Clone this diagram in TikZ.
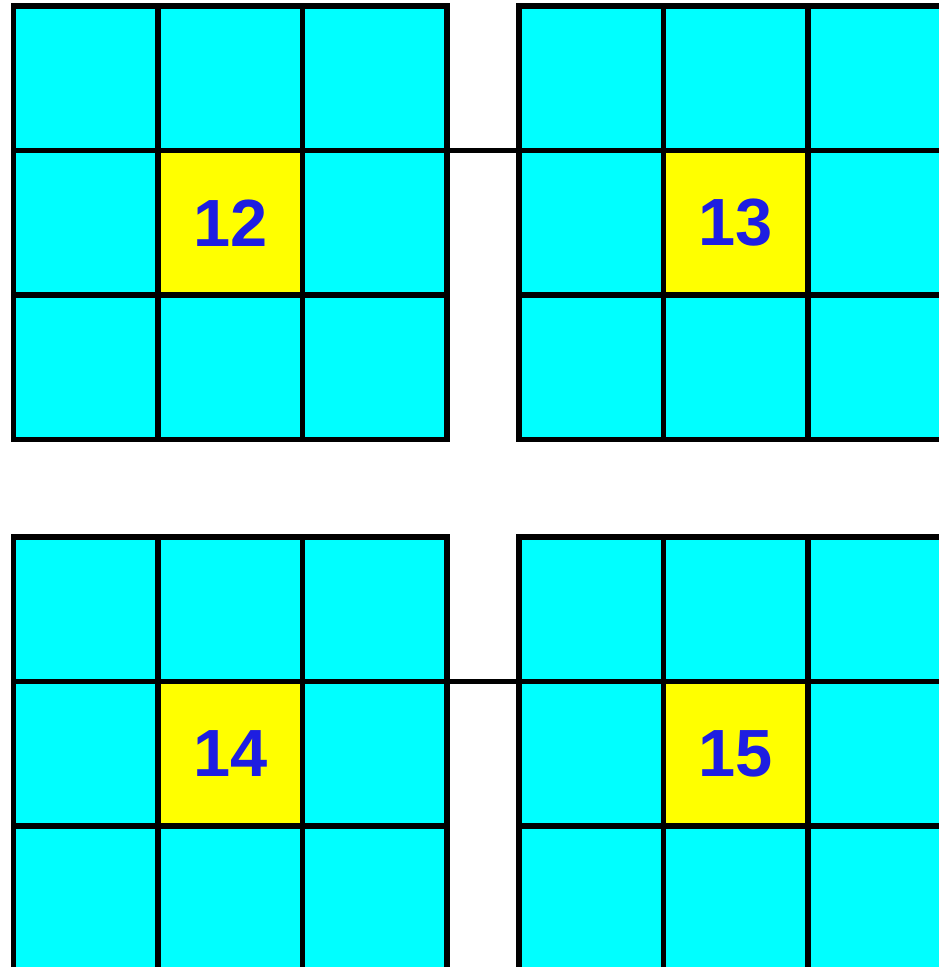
\documentclass[tikz,border=0pt]{standalone}
\usepackage{fontspec}
\setmainfont{Liberation Sans}
\definecolor{numblue}{RGB}{30,30,225}
\definecolor{cellcyan}{RGB}{0,255,255}
\definecolor{cellyellow}{RGB}{255,255,0}

\begin{document}
\begin{tikzpicture}[
        % un pixel del riferimento = 0.02cm, asse y verso il basso
        x=0.02cm, y=-0.02cm,
        % Stili delle celle e delle linee di collegamento
        cell/.style={draw=black, fill=cellcyan, line width=0.11cm, minimum size=2.89cm, inner sep=0pt, outer sep=0pt},
        center_cell/.style={cell, fill=cellyellow, text=numblue, font=\fontsize{38}{40}\selectfont\bfseries},
        link/.style={line width=0.11cm}
    ]
    \useasboundingbox (0,0) rectangle (938,967);

    % ==============================
    % 1. GRIGLIA 12 (in alto a sinistra)
    % ==============================
    \begin{scope}[shift={(13.5,6)}]
        \foreach \row in {1,2,3} \foreach \col in {1,2,3}
            \node[cell] (A-\row\col) at ({(\col-0.5)*144.5},{(\row-0.5)*144.5}) {};
        % Cella centrale
        \node[center_cell] (A-num) at (A-22) {12};
    \end{scope}

    % ==============================
    % 2. GRIGLIA 13 (in alto a destra)
    % ==============================
    \begin{scope}[shift={(519,6)}]
        \foreach \row in {1,2,3} \foreach \col in {1,2,3}
            \node[cell] (B-\row\col) at ({(\col-0.5)*144.5},{(\row-0.5)*144.5}) {};
        % Cella centrale
        \node[center_cell] (B-num) at (B-22) {13};
    \end{scope}

    % ==============================
    % 3. GRIGLIA 14 (in basso a sinistra)
    % ==============================
    \begin{scope}[shift={(13.5,537)}]
        \foreach \row in {1,2,3} \foreach \col in {1,2,3}
            \node[cell] (C-\row\col) at ({(\col-0.5)*144.5},{(\row-0.5)*144.5}) {};
        % Cella centrale
        \node[center_cell] (C-num) at (C-22) {14};
    \end{scope}

    % ==============================
    % 4. GRIGLIA 15 (in basso a destra)
    % ==============================
    \begin{scope}[shift={(519,537)}]
        \foreach \row in {1,2,3} \foreach \col in {1,2,3}
            \node[cell] (D-\row\col) at ({(\col-0.5)*144.5},{(\row-0.5)*144.5}) {};
        % Cella centrale
        \node[center_cell] (D-num) at (D-22) {15};
    \end{scope}

    % Collegamenti tra le griglie
    \draw[link] (A-23.north east) -- (B-21.north west);
    \draw[link] (C-23.north east) -- (D-21.north west);

\end{tikzpicture}
\end{document}
